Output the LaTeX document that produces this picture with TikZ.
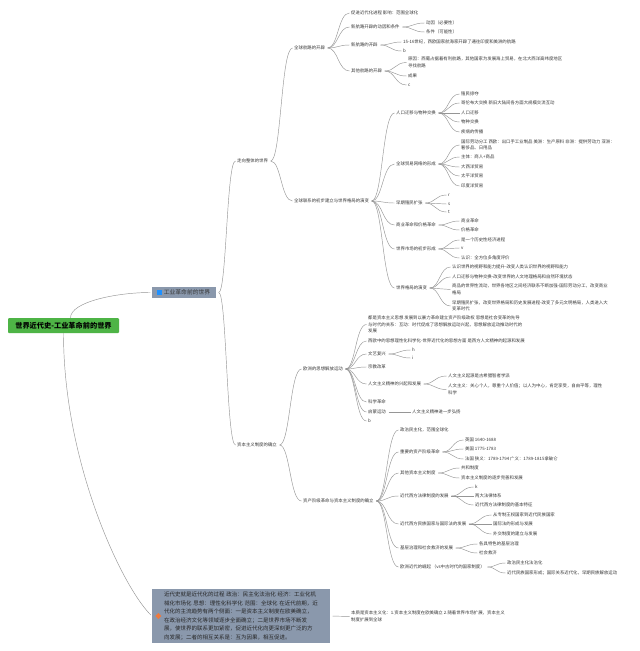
\documentclass[tikz,border=0pt]{standalone}
\usepackage{fontspec}
\setmainfont{Noto Sans CJK SC}
\usepackage{xcolor}
\usetikzlibrary{calc}
\definecolor{rootgreen}{RGB}{78,180,70}
\definecolor{topicgray}{RGB}{138,152,172}
\definecolor{iconblue}{RGB}{30,144,255}
\definecolor{iconorange}{RGB}{238,122,62}
\definecolor{linegray}{RGB}{150,150,150}
\definecolor{textgray}{RGB}{55,55,55}

\begin{document}
\begin{tikzpicture}[x=1pt, y=-1pt,
    leaf/.style={anchor=west, inner xsep=0pt, inner ysep=0.6pt, align=left, text=textgray, font=\fontsize{4.4}{6.5}\selectfont},
    link/.style={draw=linegray, line width=0.45pt, shorten <=2.5pt, shorten >=1.5pt}]
    \fill[white] (0,0) rectangle (640,651);

    \node [rectangle, fill=rootgreen, rounded corners=1pt, minimum width=111pt, minimum height=15pt, inner sep=0pt, font=\fontsize{7.2}{8}\selectfont\bfseries] (root) at (63.5,325.5) {世界近代史-工业革命前的世界};
    \node [rectangle, fill=topicgray, minimum width=64pt, minimum height=11pt, inner sep=0pt, text=textgray, font=\fontsize{5.8}{7}\selectfont] (preind) at (184,292.5) {\hspace{6pt}工业革命前的世界};
    \node [rectangle, fill=topicgray, minimum width=178pt, minimum height=54pt, inner sep=0pt, text width=154pt, align=left, text=black!85, font=\fontsize{5.5}{8.5}\selectfont] (summary) at (241,616) {近代史就是近代化的过程 政治：民主化法治化 经济：工业化机\\械化市场化 思想：理性化科学化 范围：全球化 在近代前期，近\\代化的主流趋势有两个侧面：一是资本主义制度在欧美确立，\\在政治经济文化等领域逐步全面确立；二是世界市场不断发\\展，使世界的联系更加紧密，促进近代化向更深刻更广泛的方\\向发展；二者的相互关系是：互为因果，相互促进。};
    \fill[iconblue] ([xshift=5pt]preind.west) ++(0,-2.4) rectangle ++(4.8,4.8);
    \fill[iconorange] ([xshift=6.5pt]summary.west) +(0,-3) -- +(3,0) -- +(0,3) -- +(-3,0) -- cycle;
    \node [leaf] (essence) at (351,616.5) {本质是资本主义化：1.资本主义制度在欧美确立 2.随着世界市场扩展，资本主义\\制度扩展到全球};

    \node [leaf] (whole) at (237,161) {走向整体的世界};
    \node [leaf] (capsys) at (237,445) {资本主义制度的确立};
    \node [leaf] (routes) at (294,48) {全球航路的开辟};
    \node [leaf] (links) at (294,201) {全球联系的初步建立与世界格局的演变};
    \node [leaf] (thought) at (303,369) {欧洲的思想解放运动};
    \node [leaf] (revol) at (303,501) {资产阶级革命与资本主义制度的确立};

    \node [leaf] (rA) at (351,13) {促进近代化进程 影响：范围全球化};
    \node [leaf] (rB) at (351,27) {新航路开辟的动因和条件};
    \node [leaf] (rB1) at (426,23) {动因（必要性）};
    \node [leaf] (rB2) at (426,32) {条件（可能性）};
    \node [leaf] (rC) at (351,45) {新航路的开辟};
    \node [leaf] (rC1) at (403,42) {15-16世纪，西欧国家航海家开辟了通往印度和美洲的航路};
    \node [leaf] (rC2) at (403,51) {b};
    \node [leaf] (rD) at (351,71) {其他航路的开辟};
    \node [leaf] (rD1) at (408,62.5) {原因：西葡占据着有利航路，其他国家为发展海上贸易，在北大西洋高纬度地区\\寻找航路};
    \node [leaf] (rD2) at (408,76) {成果};
    \node [leaf] (rD3) at (408,85) {c};

    \node [leaf] (lA) at (396,113) {人口迁移与物种交换};
    \node [leaf] (lA1) at (461,94) {殖民掠夺};
    \node [leaf] (lA2) at (461,103) {哥伦布大交换 新旧大陆间各方面大规模交流互动};
    \node [leaf] (lA3) at (461,113) {人口迁移};
    \node [leaf] (lA4) at (461,122) {物种交换};
    \node [leaf] (lA5) at (461,132) {疾病的传播};
    \node [leaf] (lB) at (396,164) {全球贸易网络的形成};
    \node [leaf] (lB1) at (461,145) {国际劳动分工 西欧：出口手工业制品 美洲：生产原料 非洲：提供劳动力 亚洲：\\奢侈品、日用品};
    \node [leaf] (lB2) at (461,157) {主体：商人+商品};
    \node [leaf] (lB3) at (461,167) {大西洋贸易};
    \node [leaf] (lB4) at (461,176) {太平洋贸易};
    \node [leaf] (lB5) at (461,186) {印度洋贸易};
    \node [leaf] (lC) at (396,203) {早期殖民扩张};
    \node [leaf] (lC1) at (448,195) {r};
    \node [leaf] (lC2) at (448,204) {s};
    \node [leaf] (lC3) at (448,212) {t};
    \node [leaf] (lD) at (396,225) {商业革命和价格革命};
    \node [leaf] (lD1) at (461,221) {商业革命};
    \node [leaf] (lD2) at (461,230) {价格革命};
    \node [leaf] (lE) at (396,249) {世界市场的初步形成};
    \node [leaf] (lE1) at (461,240) {是一个历史性经济进程};
    \node [leaf] (lE2) at (461,248) {v};
    \node [leaf] (lE3) at (461,258) {认识：全方位多角度评价};
    \node [leaf] (lF) at (396,288) {世界格局的演变};
    \node [leaf] (lF1) at (452,267) {认识世界的视野和能力提升-改变人类认识世界的视野和能力};
    \node [leaf] (lF2) at (452,277) {人口迁移与物种交换-改变世界的人文地理格局和自然环境状态};
    \node [leaf] (lF3) at (452,289.5) {商品的世界性流动，世界各地区之间经济联系不断加强-国际劳动分工，改变商业\\格局};
    \node [leaf] (lF4) at (452,306) {早期殖民扩张，改变世界格局和历史发展进程-改变了多元文明格局，人类进入大\\变革时代};

    \node [leaf] (tA) at (368,324.5) {都是资本主义思想 发展到以暴力革命建立资产阶级政权 思想是社会变革的先导\\与时代的关系：互动：时代促成了思想解放运动兴起，思想解放运动推动时代的\\发展};
    \node [leaf] (tB) at (368,341) {西欧中的思想理性化科学化-世界近代化的思想方面 是西方人文精神的起源和发展};
    \node [leaf] (tC) at (368,354) {文艺复兴};
    \node [leaf] (tC1) at (412,350) {h};
    \node [leaf] (tC2) at (412,358) {i};
    \node [leaf] (tD) at (368,367) {宗教改革};
    \node [leaf] (tE) at (368,384) {人文主义精神的兴起和发展};
    \node [leaf] (tE1) at (448,376) {人文主义起源是古希腊智者学派};
    \node [leaf] (tE2) at (448,389.5) {人文主义：关心个人，尊重个人价值；以人为中心，肯定享受，自由平等，理性\\科学};
    \node [leaf] (tF) at (368,402) {科学革命};
    \node [leaf] (tG) at (368,412) {启蒙运动};
    \node [leaf] (tG1) at (412,412) {人文主义精神进一步弘扬};
    \node [leaf] (tH) at (368,421) {b};

    \node [leaf] (vA) at (400,430) {政治民主化，范围全球化};
    \node [leaf] (vB) at (400,452) {重要的资产阶级革命};
    \node [leaf] (vB1) at (465,440) {英国 1640-1688};
    \node [leaf] (vB2) at (465,449) {美国 1775-1783};
    \node [leaf] (vB3) at (465,459) {法国 狭义：1789-1794 广义：1789-1815拿破仑};
    \node [leaf] (vC) at (400,473) {其他资本主义制度};
    \node [leaf] (vC1) at (461,468) {共和制度};
    \node [leaf] (vC2) at (461,478) {资本主义制度的逐步完善和发展};
    \node [leaf] (vD) at (400,496) {近代西方法律制度的发展};
    \node [leaf] (vD1) at (475,487) {k};
    \node [leaf] (vD2) at (475,496) {两大法律体系};
    \node [leaf] (vD3) at (475,505) {近代西方法律制度的基本特征};
    \node [leaf] (vE) at (400,524) {近代西方民族国家与国际法的发展};
    \node [leaf] (vE1) at (493,515) {从专制王权国家到近代民族国家};
    \node [leaf] (vE2) at (493,524) {国际法的形成与发展};
    \node [leaf] (vE3) at (493,534) {外交制度的建立与发展};
    \node [leaf] (vF) at (400,548) {基层治理和社会救济的发展};
    \node [leaf] (vF1) at (479,544) {各具特色的基层治理};
    \node [leaf] (vF2) at (479,553) {社会救济};
    \node [leaf] (vG) at (400,567) {欧洲近代的崛起 （vs中古时代的国家制度）};
    \node [leaf] (vG1) at (507,563) {政治民主化法治化};
    \node [leaf] (vG2) at (507,573) {近代民族国家形成；国际关系近代化，早期民族解放运动};

    \draw [link, shorten <=0pt] ([xshift=7pt]root.north) .. controls +(0,-16) and +(-35,0) .. (preind.west);
    \draw [link, shorten <=0pt] (root.south) .. controls +(0,130) and +(-30,-30) .. (summary.west);
    \draw [link] (summary.east) -- (essence.west);
    \draw [link] (tG.east) -- (tG1.west);
    \foreach \src/\dst in {preind/whole, preind/capsys, whole/routes, whole/links, capsys/thought, capsys/revol,
        routes/rA, routes/rB, routes/rC, routes/rD, rB/rB1, rB/rB2, rC/rC1, rC/rC2, rD/rD1, rD/rD2, rD/rD3,
        links/lA, links/lB, links/lC, links/lD, links/lE, links/lF,
        lA/lA1, lA/lA2, lA/lA3, lA/lA4, lA/lA5, lB/lB1, lB/lB2, lB/lB3, lB/lB4, lB/lB5,
        lC/lC1, lC/lC2, lC/lC3, lD/lD1, lD/lD2, lE/lE1, lE/lE2, lE/lE3, lF/lF1, lF/lF2, lF/lF3, lF/lF4,
        thought/tA, thought/tB, thought/tC, thought/tD, thought/tE, thought/tF, thought/tG, thought/tH,
        tC/tC1, tC/tC2, tE/tE1, tE/tE2,
        revol/vA, revol/vB, revol/vC, revol/vD, revol/vE, revol/vF, revol/vG,
        vB/vB1, vB/vB2, vB/vB3, vC/vC1, vC/vC2, vD/vD1, vD/vD2, vD/vD3, vE/vE1, vE/vE2, vE/vE3,
        vF/vF1, vF/vF2, vG/vG1, vG/vG2}
        \draw [link] let \p1=(\src.east), \p2=(\dst.west), \n1={0.5*(\x2-\x1)} in (\p1) .. controls +(\n1,0pt) and +(-\n1,0pt) .. (\p2);

    \useasboundingbox (0,0) rectangle (640,651);
\end{tikzpicture}
\end{document}
